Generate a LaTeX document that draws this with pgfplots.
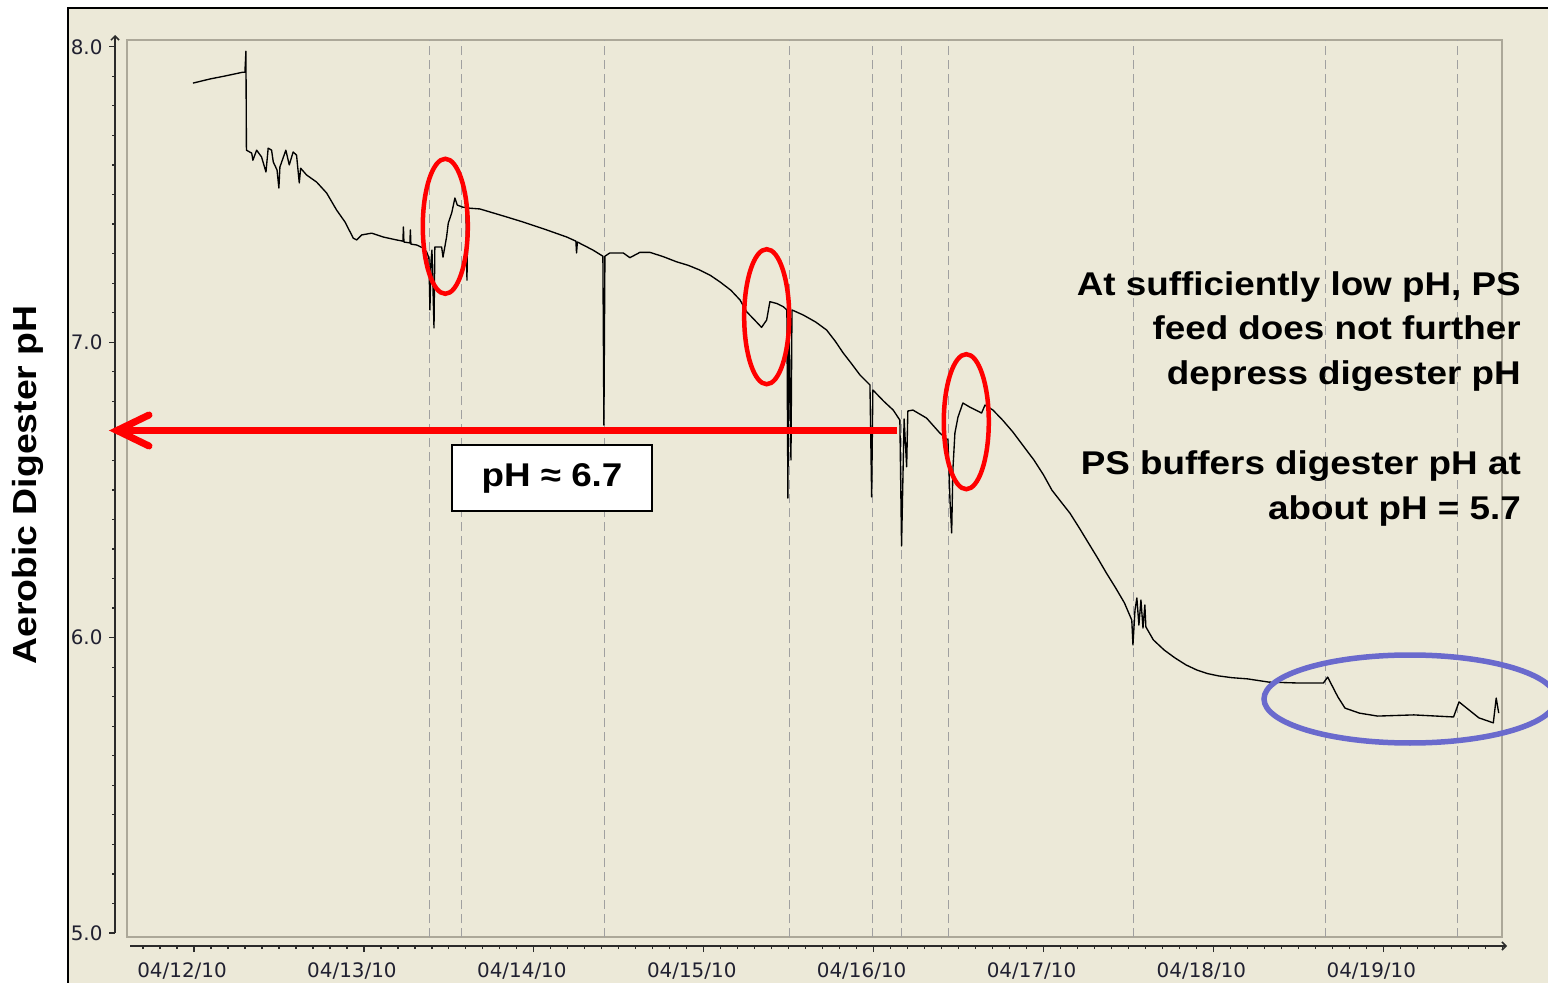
\documentclass[border=0pt]{standalone}
\usepackage{pgfplots}
\pgfplotsset{compat=1.18}
\usepackage{fontspec}
\setmainfont{Liberation Sans}
\newfontfamily\annfont{Liberation Sans}[FakeStretch=1.12]
\newfontfamily\tickfont{DejaVu Sans}
\usetikzlibrary{arrows.meta}
\definecolor{beige}{HTML}{ECE9D8}
\definecolor{framegray}{HTML}{ACA899}
\definecolor{dashgray}{HTML}{A0A0A0}
\definecolor{axiscol}{HTML}{2B2B2B}
\definecolor{tickcol}{HTML}{202030}
\definecolor{ellblue}{HTML}{6A6ACD}
\begin{document}
\begin{tikzpicture}
\useasboundingbox (0,0) rectangle (1548bp,-983bp);
\fill[white] (0,0) rectangle (1548bp,-983bp);
\fill[beige] (68bp,-8bp) rectangle (1560bp,-995bp);
\draw[black, line width=2.7bp] (68bp,-995bp) -- (68bp,-8bp) -- (1560bp,-8bp);

% main plot area with data
\begin{axis}[
  at={(127bp,-937bp)}, anchor=south west,
  scale only axis, width=1375bp, height=897bp,
  xmin=-0.394, xmax=7.699, ymin=4.986, ymax=8.023,
  xtick=\empty, ytick=\empty,
  axis line style={draw=framegray, line width=1.6bp},
  extra x ticks={1.389,1.577,2.419,3.508,3.996,4.165,4.444,5.533,6.66,7.44},
  extra x tick labels={},
  extra x tick style={grid=major, major tick length=0pt},
  major grid style={dashgray, line width=1bp, dash pattern=on 9bp off 5bp},
]
\addplot[black, line width=1.35bp, line join=round] coordinates {
(-0.006,7.877) (0.094,7.891) (0.182,7.901) (0.288,7.914) (0.300,7.914)
(0.306,7.985) (0.309,7.650) (0.340,7.640) (0.347,7.616) (0.369,7.650)
(0.398,7.627) (0.424,7.576) (0.437,7.657) (0.457,7.650) (0.467,7.610)
(0.489,7.583) (0.500,7.522) (0.506,7.593) (0.541,7.650) (0.561,7.600)
(0.584,7.644) (0.604,7.633) (0.620,7.539) (0.628,7.589) (0.663,7.566)
(0.722,7.542) (0.781,7.505) (0.840,7.447) (0.889,7.407) (0.938,7.352)
(0.958,7.346) (0.987,7.363) (1.046,7.369) (1.114,7.356) (1.193,7.346)
(1.230,7.342) (1.233,7.390) (1.236,7.339) (1.271,7.336) (1.274,7.380)
(1.277,7.332) (1.311,7.329) (1.348,7.319) (1.370,7.305) (1.383,7.285)
(1.389,7.109) (1.395,7.271) (1.401,7.312) (1.413,7.048) (1.418,7.322)
(1.458,7.322) (1.466,7.288) (1.487,7.356) (1.497,7.403) (1.517,7.437)
(1.536,7.488) (1.550,7.464) (1.583,7.457) (1.601,7.457) (1.607,7.210)
(1.613,7.454) (1.683,7.451) (1.840,7.424) (1.936,7.407) (2.076,7.380)
(2.194,7.356) (2.248,7.342) (2.252,7.302) (2.257,7.339) (2.348,7.312)
(2.407,7.291) (2.413,6.719) (2.419,7.291) (2.448,7.302) (2.527,7.302)
(2.566,7.286) (2.625,7.304) (2.684,7.304) (2.760,7.290) (2.841,7.272)
(2.910,7.260) (2.978,7.244) (3.040,7.226) (3.096,7.204) (3.160,7.176)
(3.214,7.143) (3.253,7.103) (3.300,7.075) (3.341,7.050) (3.371,7.075)
(3.390,7.137) (3.430,7.131) (3.469,7.120) (3.490,7.109) (3.496,6.472)
(3.502,7.102) (3.514,6.601) (3.520,7.109) (3.586,7.092) (3.660,7.068)
(3.724,7.041) (3.775,7.003) (3.822,6.963) (3.872,6.926) (3.920,6.889)
(3.979,6.855) (3.989,6.476) (3.996,6.838) (4.008,6.831) (4.060,6.800)
(4.116,6.770) (4.155,6.736) (4.165,6.310) (4.180,6.740)
(4.195,6.578) (4.202,6.767) (4.232,6.770) (4.312,6.743) (4.391,6.692)
(4.438,6.669) (4.450,6.465) (4.460,6.354) (4.467,6.567) (4.479,6.692)
(4.497,6.746) (4.526,6.794) (4.567,6.780) (4.636,6.760) (4.656,6.787)
(4.703,6.770) (4.760,6.736) (4.820,6.696) (4.880,6.650) (4.944,6.601)
(5.000,6.551) (5.050,6.499) (5.100,6.462) (5.156,6.421) (5.210,6.372)
(5.265,6.320) (5.318,6.270) (5.371,6.218) (5.425,6.168) (5.477,6.117)
(5.520,6.059) (5.527,5.975)
(5.539,6.093) (5.550,6.134) (5.562,6.042) (5.574,6.127) (5.586,6.032)
(5.597,6.110) (5.603,6.036) (5.647,5.992) (5.710,5.958) (5.774,5.931)
(5.840,5.907) (5.903,5.890) (5.965,5.878) (6.031,5.870) (6.110,5.864)
(6.201,5.860) (6.327,5.849) (6.498,5.846) (6.648,5.846)
(6.673,5.866) (6.733,5.799) (6.775,5.761) (6.860,5.744) (6.967,5.734)
(7.180,5.738) (7.414,5.731) (7.446,5.782) (7.563,5.728) (7.648,5.711)
(7.665,5.795) (7.680,5.744)
};
\end{axis}

% y axis line with ticks
\begin{axis}[
  at={(115bp,-933bp)}, anchor=south west,
  scale only axis, width=10bp, height=898bp,
  xmin=0, xmax=1, ymin=5, ymax=8.04,
  axis y line=left, axis x line=none,
  ytick={5,6,7,8}, minor ytick={5,5.1,...,8},
  tick align=outside, major tick length=6bp, minor tick length=3bp,
  y axis line style={axiscol, line width=1.5bp, -{Straight Barb[length=4bp,width=8bp]}},
  tick style={axiscol, line width=1.2bp},
  /pgf/number format/assume math mode=true,
  yticklabel style={font=\tickfont\fontsize{20}{22}\selectfont, text=tickcol, xshift=-3bp,
    /pgf/number format/.cd, fixed, fixed zerofill, precision=1},
]
\end{axis}

% x axis line with ticks
\begin{axis}[
  at={(130bp,-946bp)}, anchor=south west,
  scale only axis, width=1377bp, height=10bp,
  xmin=-0.377, xmax=7.728, ymin=0, ymax=1,
  axis x line=bottom, axis y line=none,
  xtick={0,1,2,3,4,5,6,7},
  xticklabels={04/12/10,04/13/10,04/14/10,04/15/10,04/16/10,04/17/10,04/18/10,04/19/10},
  minor xtick={-0.3,-0.2,...,7.7},
  tick align=outside, major tick length=6bp, minor tick length=3bp,
  x axis line style={axiscol, line width=1.5bp, -{Straight Barb[length=4bp,width=8bp]}},
  tick style={axiscol, line width=1.2bp},
  xticklabel style={font=\tickfont\fontsize{20}{22}\selectfont, text=tickcol, xshift=-12bp, yshift=-7bp},
]
\end{axis}

\begin{scope}[x=1bp, y=-1bp]
% y label
\node[rotate=90, font=\annfont\bfseries\fontsize{33.5}{40}\selectfont] at (28,485) {Aerobic Digester pH};
% red arrow at pH 6.7
\draw[red, line width=7bp] (897,430.5) -- (118,430.5);
\draw[red, line width=7bp, line cap=round, line join=miter] (149,415) -- (117,430.5) -- (149,446);
% box
\node[draw=black, line width=1.5bp, fill=white, minimum width=200bp, minimum height=66bp, inner sep=0pt,
  font=\annfont\bfseries\fontsize{33}{40}\selectfont] at (552,478) {pH ≈ 6.7};
% red ellipses
\draw[red, line width=4.5bp] (445.3,226.3) ellipse [x radius=22.5, y radius=67.5];
\draw[red, line width=4.5bp] (766.7,316.7) ellipse [x radius=22.5, y radius=67.5];
\draw[red, line width=4.5bp] (966.3,421.7) ellipse [x radius=22.5, y radius=67.5];
% blue ellipse
\draw[ellblue, line width=5.5bp] (1410,699) ellipse [x radius=146, y radius=44];
% annotation text
\begin{scope}[every node/.style={anchor=base east, inner sep=0pt, font=\annfont\bfseries\fontsize{33}{40}\selectfont}]
\node at (1521,295) {At sufficiently low pH, PS};
\node at (1521,339) {feed does not further};
\node at (1521,384) {depress digester pH};
\node at (1521,474) {PS buffers digester pH at};
\node at (1521,519) {about pH = 5.7};
\end{scope}
\end{scope}
\end{tikzpicture}
\end{document}
